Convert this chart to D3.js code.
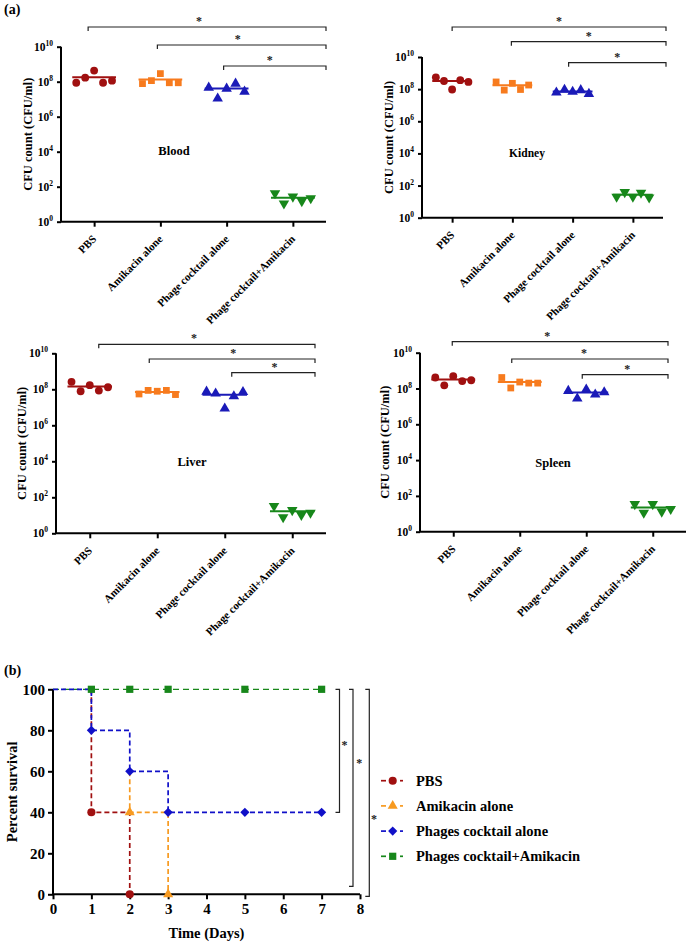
<!DOCTYPE html>
<html><head><meta charset="utf-8">
<script src="https://cdn.jsdelivr.net/npm/d3@7"></script>
<style>body{margin:0;background:#fff}svg{display:block}
svg text{font-family:"Liberation Serif","DejaVu Serif","Noto Serif",serif !important;font-weight:bold}</style>
</head><body>
<script>
// ---------- DATA ----------
const categories = ["PBS", "Amikacin alone", "Phage cocktail alone", "Phage cocktail+Amikacin"];
const yTickExponents = [0, 2, 4, 6, 8, 10];
// CFU/ml per mouse, groups in category order
const bloodCFU = [
  [8.7e7, 1.7e8, 4.3e8, 8.7e7, 1.15e8],
  [7.8e7, 1.15e8, 2.9e8, 8.7e7, 8.7e7],
  [4.6e7, 1.1e7, 4.0e7, 7.8e7, 2.7e7],
  [42, 11, 27, 15, 22]
];
const kidneyCFU = [
  [5.4e8, 3.2e8, 9.5e7, 3.6e8, 2.8e8],
  [2.8e8, 8.7e7, 2.3e8, 9.5e7, 1.8e8],
  [6.2e7, 9.1e7, 6.8e7, 8.7e7, 5.1e7],
  [20, 39, 20, 36, 18]
];
const liverCFU = [
  [2.6e8, 7.8e7, 1.7e8, 8.5e7, 1.3e8],
  [5.5e7, 8.7e7, 7.8e7, 8.7e7, 5.1e7],
  [7.4e7, 5.8e7, 8.5e6, 4.1e7, 7.1e7],
  [33, 7.8, 19.5, 10.5, 13.8]
];
const spleenCFU = [
  [4.1e8, 1.5e8, 4.9e8, 2.6e8, 2.9e8],
  [4.1e8, 1.07e8, 2.3e8, 2.0e8, 2.0e8],
  [7.4e7, 2.75e7, 8.7e7, 4.6e7, 6.2e7],
  [35, 11.5, 35, 13.2, 18.6]
];
const comparisons = [0, 1, 2]; // each vs. Phage cocktail+Amikacin, all "*"

// survival (panel b): step vertices [day, percent] and marker points
const survivalSeries = ["PBS", "Amikacin alone", "Phages cocktail alone", "Phages cocktail+Amikacin"];
const pbsSteps = [[1, 100], [1, 40], [2, 40], [2, 0]];
const pbsPoints = [[1, 40], [2, 0]];
const amikacinSteps = [[2, 60], [2, 40], [3, 40], [3, 0]];
const amikacinPoints = [[2, 40], [3, 0]];
const phageSteps = [[0, 100], [1, 100], [1, 80], [2, 80], [2, 60], [3, 60], [3, 40], [7, 40]];
const phagePoints = [[1, 80], [2, 60], [3, 40], [5, 40], [7, 40]];
const comboSteps = [[0, 100], [7, 100]];
const comboPoints = [[1, 100], [2, 100], [3, 100], [5, 100], [7, 100]];
const survivalXTicks = [0, 1, 2, 3, 4, 5, 6, 7, 8];
const survivalYTicks = [0, 20, 40, 60, 80, 100];

// ---------- STYLE / LAYOUT ----------
const FONT = "'Liberation Serif', 'DejaVu Serif', serif";
const colA = ["#a01010", "#f77b1e", "#1a1ab8", "#17871a"];
const colB = ["#a01010", "#f79a20", "#1010c8", "#17871a"];
const symA = [d3.symbolCircle, d3.symbolSquare, d3.symbolTriangle, d3.symbolTriangle];

const W = 689, H = 944;
const svg = d3.select("body").append("svg").attr("width", W).attr("height", H)
  .attr("font-family", FONT).attr("font-weight", "bold");

svg.append("text").attr("x", 4).attr("y", 14).attr("font-size", 14).text("(a)");

const panels = [
  {title: "Blood", data: bloodCFU, x0: 61, x1: 326, yTop: 46.7, yBot: 221.7, labelX: 28, tx: 174, ty: 155, tfs: 12,
   bY: [27, 45, 66], bDx: [-6, -3, -3], bEnd: 326, sDx: [-8, -4, -5]},
  {title: "Kidney", data: kidneyCFU, x0: 422, x1: 663, yTop: 57, yBot: 217.7, labelX: 389, tx: 527, ty: 157, tfs: 11,
   bY: [27, 41.7, 62.7], bDx: [0, -1, -4], bEnd: 666, sDx: [0, 0, 0]},
  {title: "Liver", data: liverCFU, x0: 56, x1: 326, yTop: 353.3, yBot: 533.3, labelX: 22, tx: 192, ty: 466, tfs: 12,
   bY: [344.3, 359, 372.7], bDx: [9, -8, 7], bEnd: 315, sDx: [-13, 1, 1]},
  {title: "Spleen", data: spleenCFU, x0: 420, x1: 686, yTop: 352.7, yBot: 531.7, labelX: 385, tx: 553, ty: 467, tfs: 12,
   bY: [341.7, 359, 374.7], bDx: [-1, -8, -4], bEnd: 668, sDx: [-13, -6, 2]}
];

panels.forEach(p => {
  const g = svg.append("g");
  const x = d3.scalePoint().domain(categories).range([p.x0, p.x1]).padding(0.5);
  const y = d3.scaleLog().domain([1, 1e10]).range([p.yBot, p.yTop]);
  const step = x.step();

  // y axis
  const yAxis = d3.axisLeft(y).tickValues(yTickExponents.map(e => Math.pow(10, e))).tickSize(4).tickFormat("");
  const ya = g.append("g").attr("transform", `translate(${p.x0},0)`).call(yAxis);
  ya.select(".domain").attr("stroke-width", 2).attr("d", `M0,${p.yTop}V${p.yBot}`);
  ya.selectAll(".tick line").attr("stroke-width", 2);
  yTickExponents.forEach(e => {
    const t = g.append("text").attr("x", p.x0 - 8).attr("y", y(Math.pow(10, e)) + 4)
      .attr("text-anchor", "end").attr("font-size", 11.5);
    t.append("tspan").text("10");
    t.append("tspan").attr("font-size", 7.5).attr("dy", -5).text(e);
  });
  // x axis
  const xAxis = d3.axisBottom(x).tickSize(5).tickFormat("");
  const xa = g.append("g").attr("transform", `translate(0,${p.yBot})`).call(xAxis);
  xa.select(".domain").attr("stroke-width", 2).attr("d", `M${p.x0},0H${p.x1}`);
  xa.selectAll(".tick line").attr("stroke-width", 2);
  categories.forEach(c => {
    g.append("text").attr("text-anchor", "end").attr("font-size", 11)
      .attr("transform", `translate(${x(c) + 3},${p.yBot + 18}) rotate(-45)`).text(c);
  });
  // y label
  g.append("text").attr("transform", `translate(${p.labelX},${(p.yTop + p.yBot) / 2}) rotate(-90)`)
    .attr("text-anchor", "middle").attr("dy", "0.35em").attr("font-size", 12.5).text("CFU count (CFU/ml)");
  // title
  g.append("text").attr("x", p.tx).attr("y", p.ty).attr("text-anchor", "middle").attr("font-size", p.tfs + 0.5).text(p.title);

  // points + mean lines
  p.data.forEach((vals, gi) => {
    const cx = x(categories[gi]);
    const mean = d3.mean(vals);
    g.append("line").attr("x1", cx - step * 0.33).attr("x2", cx + step * 0.33)
      .attr("y1", y(mean)).attr("y2", y(mean)).attr("stroke", colA[gi]).attr("stroke-width", 2);
    vals.forEach((v, i) => {
      const px = cx + (i - 2) * step * 0.135;
      g.append("path").attr("d", d3.symbol().type(symA[gi]).size(gi === 1 ? 46 : 48)())
        .attr("transform", `translate(${px},${y(v)})${gi === 3 ? " rotate(180)" : ""}`)
        .attr("fill", colA[gi]);
    });
  });

  // significance brackets
  comparisons.forEach((ci, k) => {
    const xs = x(categories[ci]) + p.bDx[k];
    const by = p.bY[k];
    g.append("path").attr("d", `M${xs},${by + 4}V${by}H${p.bEnd}V${by + 4}`)
      .attr("fill", "none").attr("stroke", "#222").attr("stroke-width", 1.2);
    g.append("text").attr("x", (xs + p.bEnd) / 2 + p.sDx[k]).attr("y", by - 2)
      .attr("text-anchor", "middle").attr("font-size", 12).attr("font-weight", "normal").attr("fill", "#222").text("*");
  });
});

// ---------- PANEL (b) ----------
svg.append("text").attr("x", 4).attr("y", 675).attr("font-size", 14).text("(b)");
const xb = d3.scaleLinear().domain([0, 8]).range([53, 360]);
const yb = d3.scaleLinear().domain([0, 100]).range([894.3, 689.3]);
const gb = svg.append("g");
const xab = gb.append("g").attr("transform", `translate(0,${yb(0)})`)
  .call(d3.axisBottom(xb).tickValues(survivalXTicks).tickSize(5).tickPadding(4).tickFormat(d3.format("d")));
const yab = gb.append("g").attr("transform", `translate(${xb(0)},0)`)
  .call(d3.axisLeft(yb).tickValues(survivalYTicks).tickSize(5).tickPadding(3));
[xab, yab].forEach(a => {
  a.attr("font-family", FONT).attr("font-size", 15).attr("font-weight", "bold");
  a.select(".domain").attr("stroke-width", 2);
  a.selectAll(".tick line").attr("stroke-width", 2);
  a.selectAll(".tick text").attr("fill", "#000");
});
xab.select(".domain").attr("d", `M${xb(0)},0H${xb(8)}`);
yab.select(".domain").attr("d", `M0,${yb(100)}V${yb(0)}`);
gb.append("text").attr("x", (xb(0) + xb(8)) / 2).attr("y", 938).attr("text-anchor", "middle").attr("font-size", 14.5).text("Time (Days)");
gb.append("text").attr("transform", `translate(12,${(yb(0) + yb(100)) / 2}) rotate(-90)`)
  .attr("text-anchor", "middle").attr("dy", "0.35em").attr("font-size", 14.5).text("Percent survival");

const line = d3.line().x(d => xb(d[0])).y(d => yb(d[1]));
const survSteps = [pbsSteps, amikacinSteps, phageSteps, comboSteps];
const survPoints = [pbsPoints, amikacinPoints, phagePoints, comboPoints];
const symB = [d3.symbolCircle, d3.symbolTriangle, d3.symbolSquare, d3.symbolSquare];
const sizeB = [52, 44, 42, 52];
const rotB = [0, 0, 45, 0];
[3, 1, 0, 2].forEach(si => {
  gb.append("path").attr("d", line(survSteps[si])).attr("fill", "none").attr("stroke", colB[si])
    .attr("stroke-width", si === 3 ? 1.3 : 1.7).attr("stroke-dasharray", si === 3 ? "6,4" : "5,3");
});
[3, 1, 0, 2].forEach(si => {
  survPoints[si].forEach(pt => {
    gb.append("path").attr("d", d3.symbol().type(symB[si]).size(sizeB[si])())
      .attr("transform", `translate(${xb(pt[0])},${yb(pt[1])}) rotate(${rotB[si]})`).attr("fill", colB[si]);
  });
});
// right-side significance brackets
const sb = [
  {x: 339.5, top: yb(100), bot: yb(40), sx: 344.5, sy: 742.7},
  {x: 353, top: yb(100), bot: yb(0) - 8, sx: 359.3, sy: 760.7},
  {x: 369.3, top: yb(100), bot: yb(0) + 2, sx: 374, sy: 816.7}
];
sb.forEach(b => {
  gb.append("path").attr("d", `M${b.x - 4},${b.top}H${b.x}V${b.bot}H${b.x - 4}`)
    .attr("fill", "none").attr("stroke", "#222").attr("stroke-width", 1.2);
  gb.append("text").attr("x", b.sx).attr("y", b.sy + 6).attr("text-anchor", "middle")
    .attr("font-size", 12).attr("font-weight", "normal").attr("fill", "#222").text("*");
});
// legend
survivalSeries.forEach((name, i) => {
  const ly = 780.7 + i * 25.2;
  const lg = gb.append("g");
  lg.append("line").attr("x1", 381).attr("x2", 386).attr("y1", ly).attr("y2", ly).attr("stroke", colB[i]).attr("stroke-width", 1.7);
  lg.append("line").attr("x1", 400).attr("x2", 403).attr("y1", ly).attr("y2", ly).attr("stroke", colB[i]).attr("stroke-width", 1.7);
  lg.append("path").attr("d", d3.symbol().type(symB[i]).size(sizeB[i])())
    .attr("transform", `translate(392.7,${ly}) rotate(${rotB[i]})`).attr("fill", colB[i]);
  lg.append("text").attr("x", 416).attr("y", ly + 5).attr("font-size", 14.5).text(name);
});
</script>
</body></html>
